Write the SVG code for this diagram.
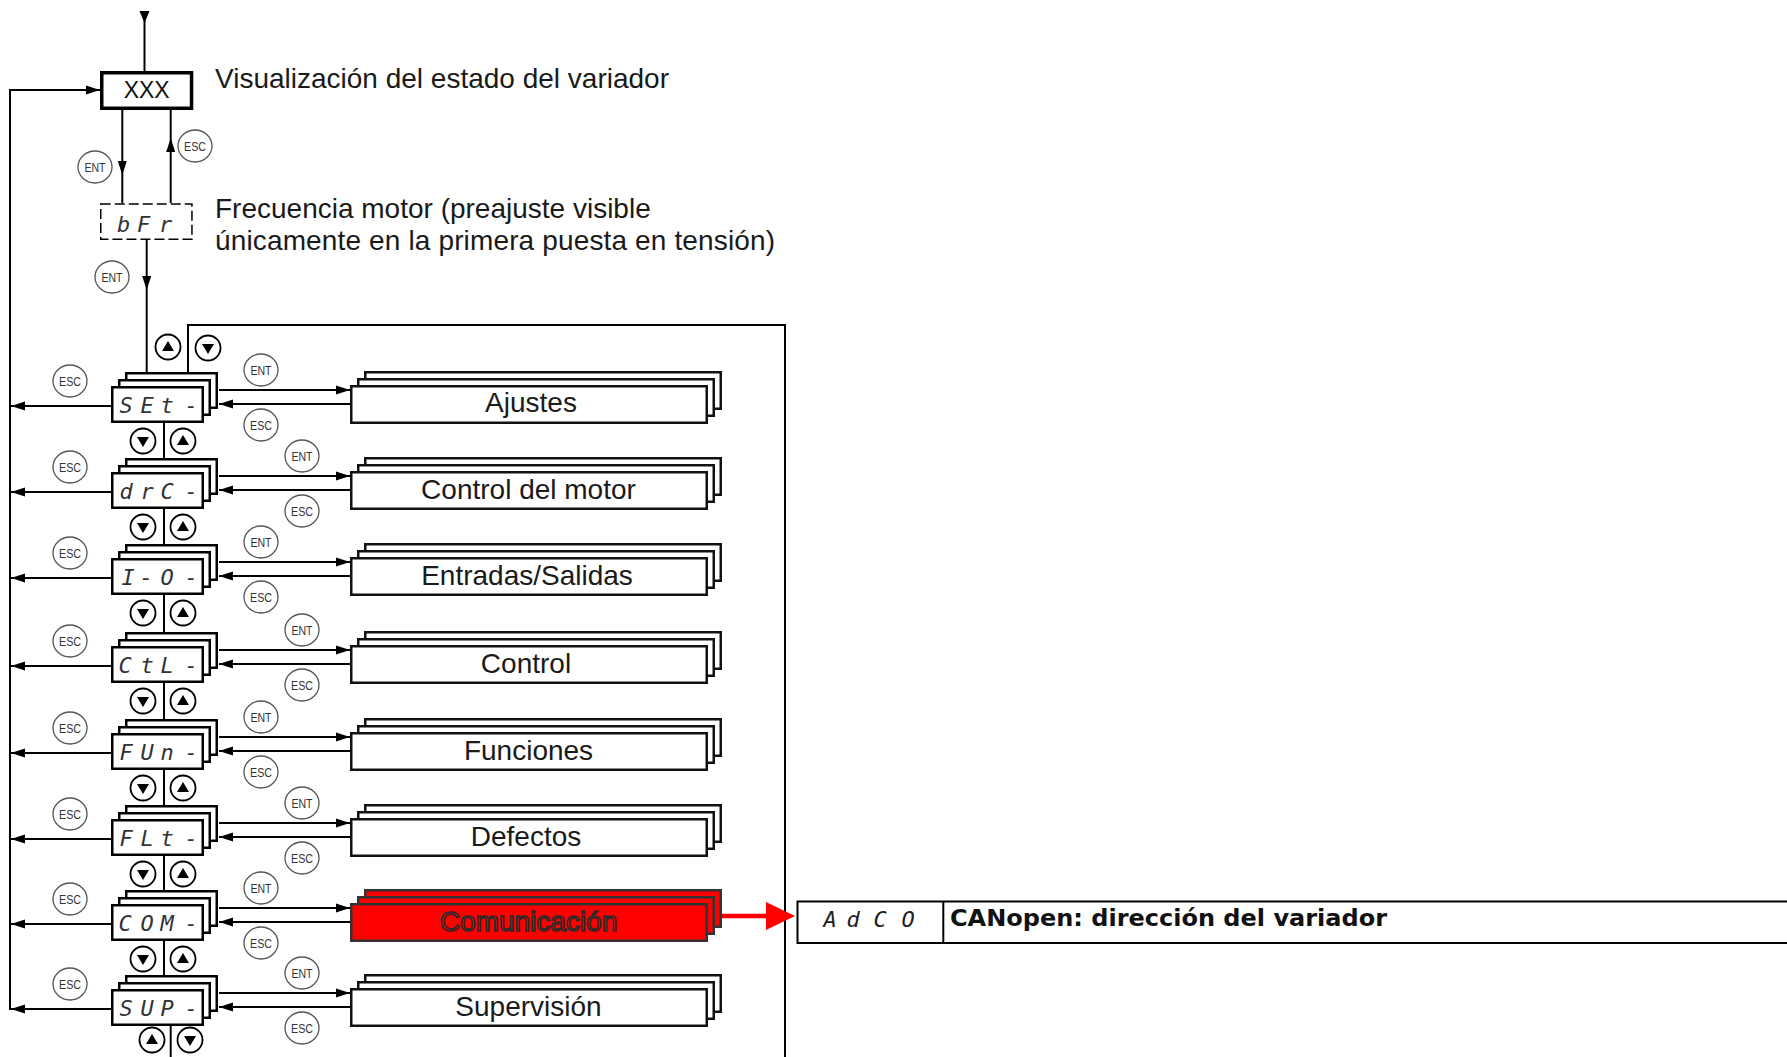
<svg xmlns="http://www.w3.org/2000/svg" width="1787" height="1057" viewBox="0 0 1787 1057">
<style>
.ln{stroke:#000;stroke-width:2;fill:none}
.box{fill:#fff;stroke:#000;stroke-width:2.5}
.rbox{fill:#fff;stroke:#111;stroke-width:2.5}
.redb{fill:#ff0000;stroke:#333;stroke-width:2.5}
.key{fill:#fff;stroke:#555;stroke-width:1.3}
.keyt{font-family:"Liberation Sans",Arial,sans-serif;font-size:12.5px;fill:#333;text-anchor:middle}
.nav{fill:#fff;stroke:#000;stroke-width:1.8}
.tri{fill:#000}
.seg{font-family:"DejaVu Sans Mono",monospace;font-style:oblique;font-size:22px;fill:#333;text-anchor:middle}
.lbl{font-family:"Liberation Sans",Arial,sans-serif;font-size:28px;fill:#1a1a1a;text-anchor:middle}
.cap{font-family:"Liberation Sans",Arial,sans-serif;font-size:28px;fill:#1a1a1a}
</style>
<defs>
<marker id="ah" markerUnits="userSpaceOnUse" markerWidth="15" markerHeight="10" refX="14" refY="5" orient="auto"><path d="M0,0.5 L14,5 L0,9.5 z" fill="#000"/></marker>
<g id="kENT"><ellipse class="key" cx="0" cy="0" rx="17" ry="16"/><text class="keyt" x="0" y="4.5" textLength="21" lengthAdjust="spacingAndGlyphs">ENT</text></g>
<g id="kESC"><ellipse class="key" cx="0" cy="0" rx="17" ry="16"/><text class="keyt" x="0" y="4.5" textLength="22" lengthAdjust="spacingAndGlyphs">ESC</text></g>
<g id="kUP"><circle class="nav" cx="0" cy="0" r="12.5"/><polygon class="tri" points="-6,4 6,4 0,-6"/></g>
<g id="kDN"><circle class="nav" cx="0" cy="0" r="12.5"/><polygon class="tri" points="-6,-4 6,-4 0,6"/></g>
</defs>
<rect width="1787" height="1057" fill="#fff"/>

<g id="connectors">
<path class="ln" d="M144.5,12 L144.5,71"/>
<polygon class="tri" points="139.5,11 149.5,11 144.5,23"/>
<path class="ln" d="M10,1010 L10,90 L100,90" marker-end="url(#ah)"/>
<path class="ln" d="M122.3,110 L122.3,175" marker-end="url(#ah)"/>
<path class="ln" d="M122.3,175 L122.3,203"/>
<path class="ln" d="M170.7,203 L170.7,138" marker-end="url(#ah)"/>
<path class="ln" d="M170.7,138 L170.7,110"/>
<path class="ln" d="M146.7,240 L146.7,290" marker-end="url(#ah)"/>
<path class="ln" d="M146.7,290 L146.7,372"/>
<path class="ln" d="M188,372 L188,325 L785,325 L785,1057"/>

<path class="ln" d="M219,390 L350,390" marker-end="url(#ah)"/>
<path class="ln" d="M350,404 L219,404" marker-end="url(#ah)"/>
<path class="ln" d="M111,406 L11,406" marker-end="url(#ah)"/>
<path class="ln" d="M164,423 L164,458"/>

<path class="ln" d="M219,476 L350,476" marker-end="url(#ah)"/>
<path class="ln" d="M350,490 L219,490" marker-end="url(#ah)"/>
<path class="ln" d="M111,492 L11,492" marker-end="url(#ah)"/>
<path class="ln" d="M164,509 L164,544"/>

<path class="ln" d="M219,562 L350,562" marker-end="url(#ah)"/>
<path class="ln" d="M350,576 L219,576" marker-end="url(#ah)"/>
<path class="ln" d="M111,578 L11,578" marker-end="url(#ah)"/>
<path class="ln" d="M164,595 L164,632"/>

<path class="ln" d="M219,650 L350,650" marker-end="url(#ah)"/>
<path class="ln" d="M350,664 L219,664" marker-end="url(#ah)"/>
<path class="ln" d="M111,666 L11,666" marker-end="url(#ah)"/>
<path class="ln" d="M164,683 L164,719"/>

<path class="ln" d="M219,737 L350,737" marker-end="url(#ah)"/>
<path class="ln" d="M350,751 L219,751" marker-end="url(#ah)"/>
<path class="ln" d="M111,753 L11,753" marker-end="url(#ah)"/>
<path class="ln" d="M164,770 L164,805"/>

<path class="ln" d="M219,823 L350,823" marker-end="url(#ah)"/>
<path class="ln" d="M350,837 L219,837" marker-end="url(#ah)"/>
<path class="ln" d="M111,839 L11,839" marker-end="url(#ah)"/>
<path class="ln" d="M164,856 L164,890"/>

<path class="ln" d="M219,908 L350,908" marker-end="url(#ah)"/>
<path class="ln" d="M350,922 L219,922" marker-end="url(#ah)"/>
<path class="ln" d="M111,924 L11,924" marker-end="url(#ah)"/>
<path class="ln" d="M164,941 L164,975"/>

<path class="ln" d="M219,993 L350,993" marker-end="url(#ah)"/>
<path class="ln" d="M350,1007 L219,1007" marker-end="url(#ah)"/>
<path class="ln" d="M111,1009 L11,1009" marker-end="url(#ah)"/>
<path class="ln" d="M170.7,1026 L170.7,1057"/>

<path d="M721,916 L768,916" stroke="#ff0000" stroke-width="4.5" fill="none"/>
<polygon points="766,902 795,916 766,930" fill="#ff0000"/>

<use href="#kENT" x="95" y="167"/>
<use href="#kESC" x="195" y="146"/>
<use href="#kENT" x="112" y="277"/>
<use href="#kUP" x="168" y="347"/>
<use href="#kDN" x="208" y="348"/>

<use href="#kESC" x="70" y="381"/><use href="#kENT" x="261" y="370"/><use href="#kESC" x="261" y="425"/>
<use href="#kDN" x="143" y="441"/><use href="#kUP" x="183" y="441"/>
<use href="#kESC" x="70" y="467"/><use href="#kENT" x="302" y="456"/><use href="#kESC" x="302" y="511"/>
<use href="#kDN" x="143" y="527"/><use href="#kUP" x="183" y="527"/>
<use href="#kESC" x="70" y="553"/><use href="#kENT" x="261" y="542"/><use href="#kESC" x="261" y="597"/>
<use href="#kDN" x="143" y="613"/><use href="#kUP" x="183" y="613"/>
<use href="#kESC" x="70" y="641"/><use href="#kENT" x="302" y="630"/><use href="#kESC" x="302" y="685"/>
<use href="#kDN" x="143" y="701"/><use href="#kUP" x="183" y="701"/>
<use href="#kESC" x="70" y="728"/><use href="#kENT" x="261" y="717"/><use href="#kESC" x="261" y="772"/>
<use href="#kDN" x="143" y="788"/><use href="#kUP" x="183" y="788"/>
<use href="#kESC" x="70" y="814"/><use href="#kENT" x="302" y="803"/><use href="#kESC" x="302" y="858"/>
<use href="#kDN" x="143" y="874"/><use href="#kUP" x="183" y="874"/>
<use href="#kESC" x="70" y="899"/><use href="#kENT" x="261" y="888"/><use href="#kESC" x="261" y="943"/>
<use href="#kDN" x="143" y="959"/><use href="#kUP" x="183" y="959"/>
<use href="#kESC" x="70" y="984"/><use href="#kENT" x="302" y="973"/><use href="#kESC" x="302" y="1028"/>
<use href="#kUP" x="152" y="1040"/><use href="#kDN" x="190" y="1040"/>
</g>

<g id="node-xxx">
<rect x="101.75" y="72.75" width="89.8" height="35.5" fill="#fff" stroke="#000" stroke-width="3.5"/>
<text x="146.7" y="98" font-family="Liberation Sans, Arial, sans-serif" font-size="23" fill="#111" text-anchor="middle">XXX</text>
<text class="cap" x="215" y="88.3">Visualización del estado del variador</text>
</g>

<g id="node-bfr">
<rect x="100.75" y="204" width="91.2" height="35.3" fill="#fff" stroke="#000" stroke-width="1.5" stroke-dasharray="10 4"/>
<text class="seg" y="232"><tspan x="123.5">b</tspan><tspan x="143.5">F</tspan><tspan x="165.5">r</tspan></text>
<text class="cap" x="215" y="218.3">Frecuencia motor (preajuste visible</text>
<text class="cap" x="215" y="249.5" textLength="560">únicamente en la primera puesta en tensión)</text>
</g>

<g id="menu-set">
<rect class="box" x="126.25" y="373.25" width="90.5" height="34.5"/><rect class="box" x="119.25" y="380.25" width="90.5" height="34.5"/><rect class="box" x="112.25" y="387.25" width="90.5" height="34.5"/>
<text class="seg" y="413"><tspan x="126">S</tspan><tspan x="147">E</tspan><tspan x="167">t</tspan><tspan x="191">-</tspan></text>
</g>
<g id="sub-ajustes">
<rect class="rbox" x="365.25" y="372.25" width="355.5" height="36.5"/><rect class="rbox" x="358.25" y="379.25" width="355.5" height="36.5"/><rect class="rbox" x="351.25" y="386.25" width="355.5" height="36.5"/>
<text class="lbl" x="531" y="412">Ajustes</text>
</g>

<g id="menu-drc">
<rect class="box" x="126.25" y="459.25" width="90.5" height="34.5"/><rect class="box" x="119.25" y="466.25" width="90.5" height="34.5"/><rect class="box" x="112.25" y="473.25" width="90.5" height="34.5"/>
<text class="seg" y="499"><tspan x="126">d</tspan><tspan x="147">r</tspan><tspan x="167">C</tspan><tspan x="191">-</tspan></text>
</g>
<g id="sub-control-motor">
<rect class="rbox" x="365.25" y="458.25" width="355.5" height="36.5"/><rect class="rbox" x="358.25" y="465.25" width="355.5" height="36.5"/><rect class="rbox" x="351.25" y="472.25" width="355.5" height="36.5"/>
<text class="lbl" x="528.5" y="499">Control del motor</text>
</g>

<g id="menu-io">
<rect class="box" x="126.25" y="545.25" width="90.5" height="34.5"/><rect class="box" x="119.25" y="552.25" width="90.5" height="34.5"/><rect class="box" x="112.25" y="559.25" width="90.5" height="34.5"/>
<text class="seg" y="585"><tspan x="128">I</tspan><tspan x="146">-</tspan><tspan x="167">O</tspan><tspan x="191">-</tspan></text>
</g>
<g id="sub-entradas">
<rect class="rbox" x="365.25" y="544.25" width="355.5" height="36.5"/><rect class="rbox" x="358.25" y="551.25" width="355.5" height="36.5"/><rect class="rbox" x="351.25" y="558.25" width="355.5" height="36.5"/>
<text class="lbl" x="527" y="585">Entradas/Salidas</text>
</g>

<g id="menu-ctl">
<rect class="box" x="126.25" y="633.25" width="90.5" height="34.5"/><rect class="box" x="119.25" y="640.25" width="90.5" height="34.5"/><rect class="box" x="112.25" y="647.25" width="90.5" height="34.5"/>
<text class="seg" y="673"><tspan x="125">C</tspan><tspan x="147">t</tspan><tspan x="167">L</tspan><tspan x="191">-</tspan></text>
</g>
<g id="sub-control">
<rect class="rbox" x="365.25" y="632.25" width="355.5" height="36.5"/><rect class="rbox" x="358.25" y="639.25" width="355.5" height="36.5"/><rect class="rbox" x="351.25" y="646.25" width="355.5" height="36.5"/>
<text class="lbl" x="526" y="673">Control</text>
</g>

<g id="menu-fun">
<rect class="box" x="126.25" y="720.25" width="90.5" height="34.5"/><rect class="box" x="119.25" y="727.25" width="90.5" height="34.5"/><rect class="box" x="112.25" y="734.25" width="90.5" height="34.5"/>
<text class="seg" y="760"><tspan x="126">F</tspan><tspan x="147">U</tspan><tspan x="167">n</tspan><tspan x="191">-</tspan></text>
</g>
<g id="sub-funciones">
<rect class="rbox" x="365.25" y="719.25" width="355.5" height="36.5"/><rect class="rbox" x="358.25" y="726.25" width="355.5" height="36.5"/><rect class="rbox" x="351.25" y="733.25" width="355.5" height="36.5"/>
<text class="lbl" x="528.5" y="760">Funciones</text>
</g>

<g id="menu-flt">
<rect class="box" x="126.25" y="806.25" width="90.5" height="34.5"/><rect class="box" x="119.25" y="813.25" width="90.5" height="34.5"/><rect class="box" x="112.25" y="820.25" width="90.5" height="34.5"/>
<text class="seg" y="846"><tspan x="126">F</tspan><tspan x="147">L</tspan><tspan x="167">t</tspan><tspan x="191">-</tspan></text>
</g>
<g id="sub-defectos">
<rect class="rbox" x="365.25" y="805.25" width="355.5" height="36.5"/><rect class="rbox" x="358.25" y="812.25" width="355.5" height="36.5"/><rect class="rbox" x="351.25" y="819.25" width="355.5" height="36.5"/>
<text class="lbl" x="526" y="846">Defectos</text>
</g>

<g id="menu-com">
<rect class="box" x="126.25" y="891.25" width="90.5" height="34.5"/><rect class="box" x="119.25" y="898.25" width="90.5" height="34.5"/><rect class="box" x="112.25" y="905.25" width="90.5" height="34.5"/>
<text class="seg" y="931"><tspan x="125">C</tspan><tspan x="147">O</tspan><tspan x="167">M</tspan><tspan x="191">-</tspan></text>
</g>
<g id="sub-comunicacion">
<rect class="redb" x="365.25" y="890.25" width="355.5" height="36.5"/><rect class="redb" x="358.25" y="897.25" width="355.5" height="36.5"/><rect class="redb" x="351.25" y="904.25" width="355.5" height="36.5"/>
<text class="lbl" x="528.5" y="931" stroke="#2a2a2a" stroke-width="1.6" style="fill:#ff0000">Comunicación</text>
</g>

<g id="menu-sup">
<rect class="box" x="126.25" y="976.25" width="90.5" height="34.5"/><rect class="box" x="119.25" y="983.25" width="90.5" height="34.5"/><rect class="box" x="112.25" y="990.25" width="90.5" height="34.5"/>
<text class="seg" y="1016"><tspan x="126">S</tspan><tspan x="147">U</tspan><tspan x="167">P</tspan><tspan x="191">-</tspan></text>
</g>
<g id="sub-supervision">
<rect class="rbox" x="365.25" y="975.25" width="355.5" height="36.5"/><rect class="rbox" x="358.25" y="982.25" width="355.5" height="36.5"/><rect class="rbox" x="351.25" y="989.25" width="355.5" height="36.5"/>
<text class="lbl" x="528.5" y="1016">Supervisión</text>
</g>

<g id="param-adco">
<rect x="797.5" y="901.5" width="1000" height="41.5" fill="#fff" stroke="#000" stroke-width="2"/>
<line x1="943.3" y1="901.5" x2="943.3" y2="943" stroke="#000" stroke-width="2"/>
<text class="seg" y="927" style="fill:#222"><tspan x="830">A</tspan><tspan x="853">d</tspan><tspan x="880">C</tspan><tspan x="908">O</tspan></text>
<text x="950" y="926" font-family="DejaVu Sans, Verdana, sans-serif" font-weight="bold" font-size="23.5" fill="#111" textLength="437" lengthAdjust="spacingAndGlyphs">CANopen: dirección del variador</text>
</g>
</svg>
